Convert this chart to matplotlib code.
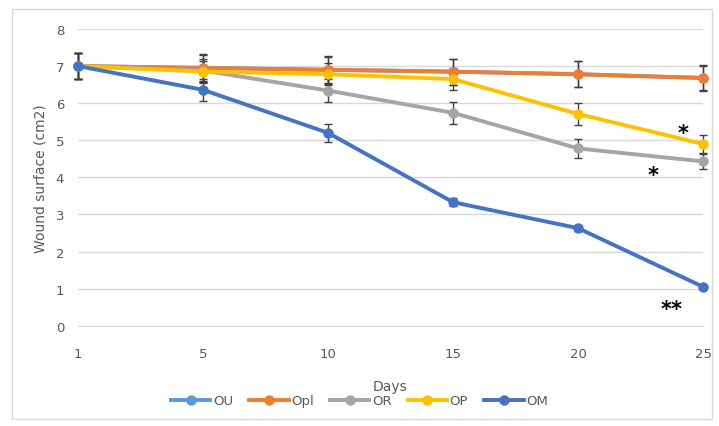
import matplotlib
matplotlib.use("Agg")
import matplotlib.pyplot as plt
from matplotlib.patches import Rectangle
from matplotlib.lines import Line2D

days = ["1", "5", "10", "15", "20", "25"]
OU = [7.0, 6.95, 6.9, 6.85, 6.78, 6.68]
Opl = [7.0, 6.95, 6.9, 6.85, 6.78, 6.68]
OR = [7.0, 6.88, 6.34, 5.74, 4.78, 4.43]
OP = [7.0, 6.85, 6.78, 6.65, 5.71, 4.90]
OM = [7.0, 6.36, 5.20, 3.33, 2.63, 1.05]
OU_err = [0.35, 0.35, 0.35, 0.35, 0.35, 0.35]
Opl_err = [0.35, 0.38, 0.38, 0.35, 0.35, 0.33]
OR_err = [0.35, 0.3, 0.3, 0.3, 0.25, 0.2]
OP_err = [0.35, 0.3, 0.3, 0.3, 0.3, 0.25]
OM_err = [0.35, 0.3, 0.25, 0.1, 0.08, 0.05]

series = [("OU", OU, OU_err, "#5B9BD5"),
          ("Opl", Opl, Opl_err, "#ED7D31"),
          ("OR", OR, OR_err, "#A5A5A5"),
          ("OP", OP, OP_err, "#FFC000"),
          ("OM", OM, OM_err, "#4472C4")]

fig = plt.figure(figsize=(7.19, 4.27), dpi=100)
fig.patches.append(Rectangle((12/719, 1-420/427), 700/719, 410/427, transform=fig.transFigure,
                             fill=False, edgecolor="#D9D9D9", linewidth=1))
ax = fig.add_axes([78/719, 1-326.7/427, (703-78)/719, (326.7-30)/427])
x = list(range(len(days)))
handles = []
for name, vals, err, col in series:
    eb = ax.errorbar(x, vals, yerr=err, color=col, linewidth=2.8, marker="o", markersize=6.5,
                     ecolor="#404040", elinewidth=1, capsize=3, capthick=1, zorder=3)
    for art in eb.lines[0:1]:
        art.set_clip_on(False)
    for art in eb.lines[1]:
        art.set_clip_on(False)
    for art in eb.lines[2]:
        art.set_clip_on(False)
    handles.append(Line2D([0], [0], color=col, linewidth=2.8, marker="o", markersize=6.5, label=name))

ax.set_xlim(0, len(days) - 1)
ax.set_ylim(0, 8)
ax.set_xticks(x)
ax.set_xticklabels(days)
ax.set_yticks(range(0, 9))
ax.grid(axis="y", color="#D9D9D9", linewidth=1)
ax.set_axisbelow(True)
for s in ["top", "right", "left"]:
    ax.spines[s].set_visible(False)
ax.spines["bottom"].set_color("#D9D9D9")
ax.tick_params(axis="x", length=0, colors="#595959", labelsize=9.5, pad=15)
ax.tick_params(axis="y", length=0, colors="#595959", labelsize=9.5, pad=10)
ax.set_xlabel("Days", color="#595959", fontsize=10, labelpad=14)
ax.set_ylabel("Wound surface (cm2)", color="#595959", fontsize=10, labelpad=6)

ax.text(4.84, 5.2, "*", fontsize=15, fontweight="bold", ha="center", va="center")
ax.text(4.6, 4.05, "*", fontsize=15, fontweight="bold", ha="center", va="center")
ax.text(4.75, 0.45, "**", fontsize=15, fontweight="bold", ha="center", va="center")

leg = fig.legend(handles=handles, loc="center", bbox_to_anchor=(0.5, 1-402/427), ncol=5,
                 frameon=False, fontsize=9.5, handlelength=3, columnspacing=1.2, handletextpad=0.2)
for t in leg.get_texts():
    t.set_color("#595959")

fig.savefig("out.png", dpi=100)
